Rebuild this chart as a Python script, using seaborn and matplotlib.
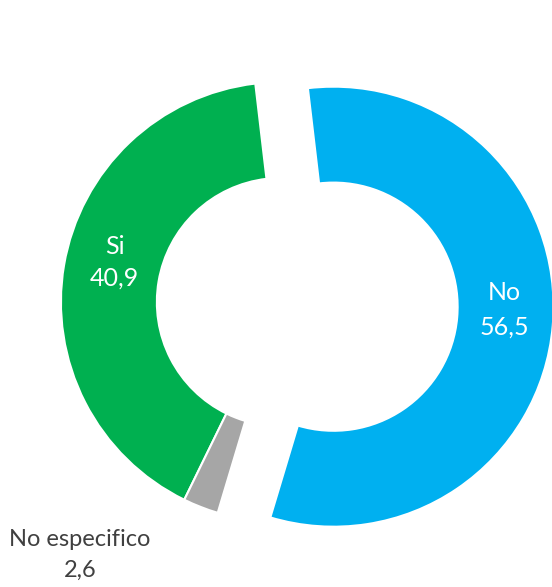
import matplotlib
matplotlib.use("Agg")
import matplotlib.pyplot as plt
import seaborn as sns
import numpy as np

sns.set_theme(style="white")
plt.rcParams['font.family'] = ['Lato', 'DejaVu Sans']

categories = ["No", "Si", "No especifico"]
values = [56.5, 40.9, 2.6]
value_labels = ["56,5", "40,9", "2,6"]
colors = ["#00B0F0", "#00B050", "#A6A6A6"]
explode = [0.24, 0.0, 0.0]

fig = plt.figure(figsize=(5.52, 5.87), dpi=100)
ax = fig.add_axes([0, 0, 1, 1])
wedges, _ = ax.pie(values, colors=colors, explode=explode, startangle=253.3,
                   counterclock=True,
                   wedgeprops=dict(width=0.436, edgecolor="white", linewidth=1.5))
ax.set_xlim(-1.277, 1.232)
ax.set_ylim(-1.295, 1.373)
ax.set_aspect("auto")
ax.axis("off")

# labels inside wedges
for w, cat, lab, r, dy, ls in [(wedges[0], categories[0], value_labels[0], 0.78, 0.054, 1.6),
                               (wedges[1], categories[1], value_labels[1], 0.766, 0.053, 1.45)]:
    ang = np.deg2rad((w.theta1 + w.theta2) / 2)
    cx, cy = w.center
    ax.text(cx + r * np.cos(ang), cy + r * np.sin(ang) + dy, f"{cat}\n{lab}",
            ha="center", va="center", color="white", fontsize=18, linespacing=ls)

ax.text(-0.914, -1.15, f"{categories[2]}\n{value_labels[2]}", ha="center", va="center",
        color="#404040", fontsize=17, linespacing=1.6)

fig.savefig("out.png", dpi=100)
